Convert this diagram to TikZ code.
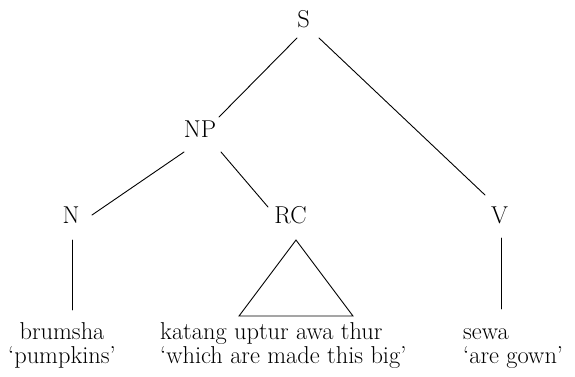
\documentclass[tikz,border=0pt]{standalone}
\usetikzlibrary{calc}
\begin{document}
\begin{tikzpicture}[x=1pt,y=-1pt,
  lab/.style={inner sep=0pt,anchor=base,font=\fontsize{24.4}{24}\selectfont},
  gloss/.style={lab,align=left,anchor=base west},
  branch/.style={line width=0.9pt,line cap=round}]
  \path[use as bounding box,fill=white] (0,0) rectangle (575,376);

  % category labels
  \node[lab] (S)  at (303.5,27) {S};
  \node[lab] (NP) at (200,137)  {NP};
  \node[lab] (N)  at (71,223)   {N};
  \node[lab] (RC) at (290.5,223){RC};
  \node[lab] (V)  at (499.5,223){V};

  % words with glosses (base anchor sits on the gloss line)
  \node[lab,align=center] (wN) at (62,363) {brumsha\\‘pumpkins’};
  \node[gloss] (wRC) at (160,363) {katang uptur awa thur\\‘which are made this big’};
  \node[gloss] (wV)  at (463,363) {sewa\\‘are gown’};

  % branches
  \draw[branch] ($(S.base)+(-6.5,11)$) -- ($(NP.base)+(19,-20)$);
  \draw[branch] ($(S.base)+(15.5,11)$) -- ($(V.base)+(-14.5,-28)$);
  \draw[branch] ($(NP.base)+(-16,15)$) -- ($(N.base)+(21,-8)$);
  \draw[branch] ($(NP.base)+(21,15)$) -- ($(RC.base)+(-22.5,-16)$);
  \draw[branch] ($(N.base)+(1.5,17)$) -- ($(wN.base)+(10.5,-53)$);
  \draw[branch] ($(V.base)+(2,15)$) -- ($(wV.base west)+(38.5,-54)$);
  % collapsed constituent under RC
  \draw[branch,line join=miter] ($(RC.base)+(5.5,17)$) -- ($(wRC.base west)+(79,-47)$)
        -- ($(wRC.base west)+(193,-47)$) -- cycle;
\end{tikzpicture}
\end{document}
